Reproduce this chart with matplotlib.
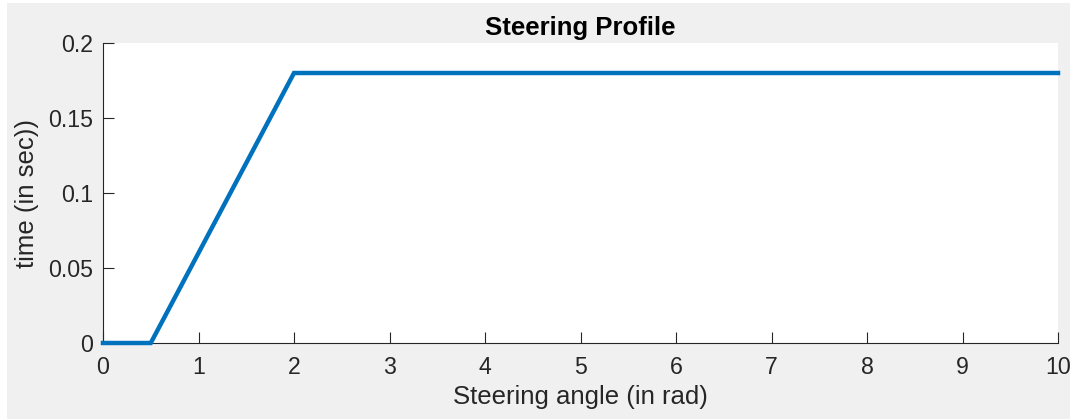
import matplotlib
matplotlib.use("Agg")
import matplotlib.pyplot as plt

# steering profile breakpoints
angle = [0, 0.5, 2, 10]
time_s = [0, 0, 0.18, 0.18]

x_ticks = [0, 1, 2, 3, 4, 5, 6, 7, 8, 9, 10]
y_ticks = [0, 0.05, 0.1, 0.15, 0.2]
y_tick_labels = ["0", "0.05", "0.1", "0.15", "0.2"]

plt.rcParams['font.family'] = ['Liberation Sans', 'DejaVu Sans']

W, H = 1072, 419
fig = plt.figure(figsize=(W / 100, H / 100), dpi=100)
fig.patch.set_facecolor('white')

# grey figure panel behind the axes
bg = fig.add_axes([7 / W, 0, 1063 / W, 1 - 3 / H])
bg.set_facecolor('#f0f0f0')
bg.set_xticks([])
bg.set_yticks([])
for s in bg.spines.values():
    s.set_visible(False)
bg.set_zorder(-1)

ax = fig.add_axes([103 / W, 1 - 343 / H, (1058 - 103) / W, (343 - 43) / H])
ax.set_facecolor('white')
ax.plot(angle, time_s, color='#0072BD', linewidth=3.2, solid_joinstyle='miter',
        clip_on=False, zorder=3)

ax.set_xlim(0, 10)
ax.set_ylim(0, 0.2)
ax.set_xticks(x_ticks)
ax.set_yticks(y_ticks)
ax.set_yticklabels(y_tick_labels)

for side in ['top', 'right']:
    ax.spines[side].set_visible(False)
for side in ['left', 'bottom']:
    ax.spines[side].set_color('#262626')
    ax.spines[side].set_linewidth(0.8)

ax.tick_params(direction='in', length=8, width=0.8, color='#262626',
               labelcolor='#262626', labelsize=16.7)
ax.tick_params(axis='x', pad=9)
ax.tick_params(axis='y', pad=7.2)

ax.set_xlabel('Steering angle (in rad)', fontsize=18.5, color='#262626')
ax.set_ylabel('time (in sec))', fontsize=18.5, color='#262626')
ax.xaxis.set_label_coords(0.5, (343 - 385) / 300)
ax.yaxis.set_label_coords((39 - 103) / 955, 0.5)
ax.set_title('Steering Profile', fontsize=18.5, fontweight='bold', color='black', pad=6)

fig.savefig('out.png', dpi=100, facecolor=fig.get_facecolor())
